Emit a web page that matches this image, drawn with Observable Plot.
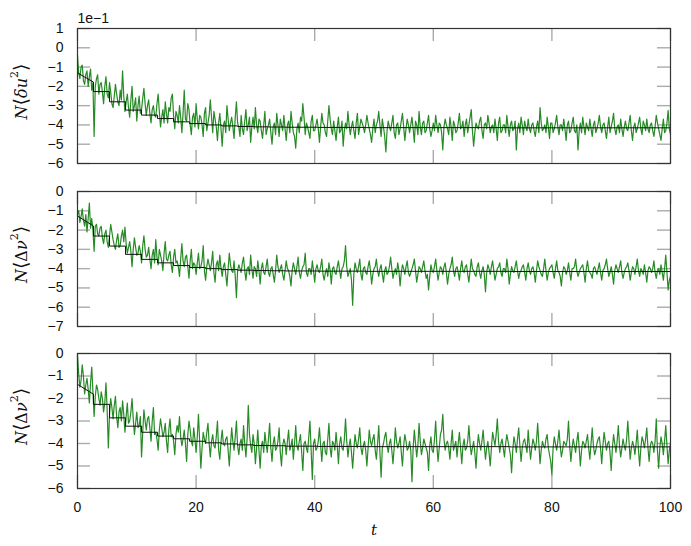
<!DOCTYPE html>
<html>
<head>
<meta charset="utf-8">
<script src="https://cdn.jsdelivr.net/npm/d3@7"></script>
<script src="https://cdn.jsdelivr.net/npm/@observablehq/plot@0.6"></script>
<style>
  html, body { margin: 0; padding: 0; background: #fff; }
  #chart { position: relative; width: 691px; height: 546px; }
  #chart svg { position: absolute; left: 0; }
</style>
</head>
<body>
<div id="chart"></div>
<script>
// ---- data ----
const xTicks = [0, 20, 40, 60, 80, 100];
const yTicks1 = [1, 0, -1, -2, -3, -4, -5, -6];
const yTicks2 = [0, -1, -2, -3, -4, -5, -6, -7];
const yTicks3 = [0, -1, -2, -3, -4, -5, -6];
const scaleNote = "1e\u22121";
const sampleStep = 0.2; // time between samples of the green series

const green1 = [
-0.4,-1.3,-1.6,-1.0,-0.9,-1.7,-1.9,-1.4,-1.2,-2.0,-1.5,-1.1,-2.2,-1.8,-4.6,-2.0,-1.6,-1.4,-2.4,-1.9,
-1.8,-2.3,-2.9,-2.0,-1.5,-2.4,-2.6,-1.8,-2.3,-2.9,-3.1,-2.5,-1.9,-2.4,-2.8,-3.0,-2.2,-2.7,-1.2,-2.5,
-3.3,-2.8,-2.4,-3.1,-3.6,-2.7,-2.0,-3.3,-3.0,-2.6,-3.8,-3.0,-2.5,-3.4,-3.2,-2.6,-2.1,-2.9,-3.5,-3.0,
-2.7,-3.4,-3.9,-3.2,-3.0,-3.5,-3.6,-2.9,-2.4,-3.3,-4.1,-3.6,-3.2,-3.9,-2.8,-3.4,-3.9,-3.1,-3.3,-2.6,
-2.4,-3.5,-4.2,-3.3,-3.5,-3.9,-3.0,-3.6,-4.4,-3.4,-2.2,-3.7,-3.8,-2.9,-3.2,-4.0,-4.5,-3.6,-3.4,-4.1,
-2.9,-3.7,-4.2,-3.5,-3.6,-4.0,-4.6,-3.4,-3.1,-4.3,-3.9,-3.5,-2.7,-3.6,-4.4,-3.3,-3.7,-4.1,-4.8,-3.9,
-3.4,-4.2,-5.1,-4.0,-3.8,-4.4,-3.0,-3.7,-4.3,-3.9,-3.6,-4.1,-4.7,-3.6,-2.8,-3.9,-4.1,-4.6,-3.5,-4.2,
-4.5,-3.8,-3.2,-4.3,-4.0,-3.6,-4.9,-4.1,-3.6,-4.2,-3.1,-4.0,-4.4,-3.7,-3.8,-4.3,-4.7,-4.0,-3.3,-4.5,
-4.2,-4.0,-3.7,-4.4,-5.0,-4.1,-3.9,-4.5,-3.4,-4.0,-4.6,-3.7,-4.0,-4.3,-3.5,-4.2,-4.8,-4.0,-3.8,-4.4,
-3.3,-3.9,-4.4,-4.6,-5.2,-4.2,-3.9,-4.4,-3.6,-3.8,-2.9,-3.6,-4.5,-3.9,-4.1,-4.4,-4.7,-3.8,-3.5,-4.3,
-4.3,-4.0,-3.7,-4.2,-4.9,-4.1,-3.4,-3.9,-4.0,-4.4,-4.6,-3.8,-3.0,-3.7,-4.2,-4.5,-3.8,-4.3,-4.8,-4.1,
-3.6,-4.4,-4.3,-3.8,-5.1,-4.3,-3.9,-4.2,-3.3,-4.0,-4.5,-4.1,-3.8,-4.3,-4.7,-3.9,-3.4,-4.5,-4.1,-3.7,
-3.9,-4.1,-4.4,-4.0,-3.5,-3.9,-4.2,-4.5,-4.9,-4.2,-3.7,-4.4,-4.0,-3.8,-3.3,-4.0,-4.6,-3.7,-4.1,-4.6,
-5.4,-4.3,-3.8,-4.1,-4.3,-3.9,-3.5,-4.4,-4.7,-4.0,-3.9,-4.5,-4.2,-3.8,-3.4,-4.1,-4.8,-4.2,-3.7,-4.0,
-4.4,-4.0,-3.6,-4.2,-4.9,-3.8,-4.0,-4.5,-3.3,-4.1,-4.5,-3.9,-3.8,-4.4,-4.3,-3.9,-3.5,-4.2,-4.6,-4.3,
-3.9,-4.3,-3.5,-4.0,-4.4,-3.9,-4.0,-4.4,-5.3,-4.1,-3.7,-4.0,-4.2,-4.5,-3.6,-4.1,-4.8,-3.8,-4.0,-4.4,
-4.3,-3.9,-3.4,-4.2,-4.1,-3.8,-4.6,-4.0,-3.7,-4.4,-4.0,-3.6,-3.2,-4.3,-5.1,-4.4,-3.9,-4.1,-4.2,-3.8,
-3.6,-4.3,-4.7,-4.0,-3.9,-4.2,-3.5,-3.9,-4.4,-4.1,-4.0,-4.4,-3.7,-4.2,-4.8,-3.9,-3.6,-4.4,-4.3,-4.0,
-4.0,-4.4,-3.5,-4.1,-4.6,-4.0,-3.8,-4.3,-4.2,-3.8,-5.3,-4.2,-3.9,-4.4,-3.6,-4.0,-4.5,-3.8,-4.1,-4.3,
-3.7,-4.2,-4.4,-4.0,-3.9,-4.3,-4.6,-4.1,-3.8,-4.4,-3.1,-3.9,-4.3,-4.2,-4.0,-4.4,-3.6,-4.1,-4.7,-3.9,
-3.9,-4.4,-4.2,-3.9,-3.5,-4.1,-4.5,-4.0,-4.0,-4.3,-3.7,-4.2,-4.8,-4.0,-3.8,-4.4,-4.3,-3.9,-3.6,-4.3,
-4.4,-4.0,-5.3,-4.3,-3.9,-4.4,-3.6,-4.1,-4.5,-3.9,-4.1,-4.3,-3.7,-4.2,-4.6,-4.0,-3.8,-4.4,-4.2,-3.9,
-3.5,-4.1,-4.4,-4.0,-3.9,-4.3,-4.7,-4.1,-3.6,-4.4,-4.1,-3.8,-3.4,-4.2,-4.5,-4.1,-4.0,-4.4,-3.7,-4.2,
-4.6,-4.1,-3.8,-4.2,-4.3,-3.9,-3.5,-4.3,-4.8,-4.1,-3.9,-4.4,-4.2,-3.9,-3.6,-4.2,-4.5,-3.8,-4.0,-4.3,
-3.7,-4.2,-4.4,-4.0,-3.9,-4.3,-4.6,-4.1,-3.5,-3.9,-4.2,-4.5,-4.8,-4.2,-3.7,-4.4,-4.3,-3.9,-3.25,-4.2,-4.5
];

const green2 = [
-1.2,-1.0,-1.6,-1.3,-0.9,-1.5,-1.8,-1.2,-2.1,-1.4,-0.6,-1.9,-1.4,-2.0,-3.1,-1.8,-1.7,-2.2,-2.3,-1.9,
-1.8,-2.4,-2.7,-2.2,-2.0,-2.6,-2.9,-2.3,-1.7,-2.1,-2.5,-2.8,-3.0,-2.5,-2.2,-2.9,-2.8,-2.3,-2.0,-2.6,
-1.85,-2.7,-3.2,-2.9,-2.6,-3.1,-3.9,-3.0,-2.4,-2.9,-3.3,-3.2,-2.8,-3.1,-3.7,-2.8,-2.3,-3.0,-3.4,-3.3,
-2.9,-3.5,-4.0,-3.3,-3.0,-3.7,-2.5,-3.4,-3.8,-3.0,-3.3,-3.6,-4.1,-3.2,-2.6,-3.5,-3.6,-3.3,-3.1,-3.8,
-4.2,-3.4,-3.0,-3.7,-3.6,-3.9,-4.4,-3.5,-2.7,-3.6,-3.9,-3.4,-3.3,-3.9,-4.5,-3.6,-3.0,-4.0,-3.7,-3.8,
-4.3,-3.7,-3.2,-4.0,-3.9,-3.6,-2.8,-4.1,-4.6,-3.9,-3.5,-3.8,-4.1,-3.7,-3.1,-4.2,-4.7,-3.8,-3.6,-4.1,
-3.3,-4.0,-4.4,-3.9,-3.7,-4.3,-4.9,-4.0,-3.2,-3.8,-4.1,-4.2,-3.6,-4.4,-5.5,-4.1,-3.8,-4.0,-4.2,-3.7,
-3.4,-4.1,-4.6,-4.0,-3.9,-4.3,-3.3,-4.0,-4.5,-3.9,-4.0,-4.4,-3.6,-4.1,-4.8,-4.0,-3.7,-4.2,-4.3,-3.9,
-3.5,-4.2,-4.4,-4.0,-3.9,-4.3,-4.7,-4.1,-3.3,-3.9,-4.2,-4.0,-3.8,-4.3,-4.6,-4.1,-3.6,-4.0,-4.1,-4.4,
-4.9,-4.1,-3.7,-4.0,-4.3,-3.9,-3.4,-4.2,-4.5,-4.1,-3.9,-3.8,-3.2,-4.2,-4.4,-4.0,-4.0,-4.3,-3.6,-4.1,
-4.7,-4.0,-3.8,-4.1,-4.2,-3.9,-3.5,-4.3,-4.6,-4.2,-4.0,-4.4,-3.7,-4.1,-4.8,-4.0,-3.9,-4.2,-4.3,-3.9,
-3.6,-4.1,-4.5,-4.0,-3.9,-3.6,-2.8,-3.9,-4.4,-4.2,-4.0,-4.6,-5.9,-4.3,-3.7,-4.0,-4.2,-3.9,-3.5,-4.3,
-4.6,-4.0,-3.9,-4.2,-4.3,-3.9,-3.6,-4.1,-4.8,-4.3,-4.0,-3.9,-3.5,-4.1,-4.4,-4.0,-3.8,-4.3,-4.7,-4.1,
-3.9,-4.3,-4.2,-3.9,-3.4,-4.0,-4.5,-4.2,-4.0,-4.3,-3.7,-4.1,-4.9,-4.2,-3.8,-4.0,-4.3,-3.9,-3.6,-4.2,
-4.4,-4.2,-4.0,-3.8,-3.5,-4.1,-4.7,-4.3,-3.9,-4.0,-4.2,-3.9,-3.6,-4.1,-4.5,-4.3,-5.1,-4.4,-3.8,-4.1,
-4.2,-3.9,-3.5,-4.1,-4.6,-4.2,-3.9,-4.0,-4.3,-3.9,-3.7,-4.2,-4.8,-4.3,-4.0,-3.8,-3.4,-4.1,-4.4,-4.0,
-3.9,-4.2,-4.6,-4.0,-3.6,-4.1,-4.2,-3.9,-3.8,-4.3,-4.7,-4.1,-3.5,-4.0,-4.1,-4.3,-4.4,-3.9,-3.7,-4.2,
-4.5,-4.1,-3.9,-4.3,-5.2,-4.2,-3.8,-4.0,-4.3,-3.9,-3.6,-4.1,-4.6,-4.3,-4.0,-3.9,-3.7,-4.2,-4.4,-4.0,
-4.0,-4.2,-3.5,-4.0,-4.8,-4.3,-3.9,-4.1,-4.2,-3.9,-3.6,-4.1,-4.5,-4.2,-4.1,-3.9,-3.8,-4.2,-4.6,-4.0,
-3.7,-4.1,-4.3,-4.0,-3.9,-4.2,-4.7,-4.1,-3.6,-3.9,-4.1,-4.3,-4.4,-4.0,-3.5,-4.1,-4.6,-4.2,-4.0,-3.9,
-3.8,-4.2,-4.5,-4.0,-3.6,-4.1,-4.2,-4.4,-4.9,-4.2,-3.9,-4.0,-4.3,-4.1,-3.7,-4.2,-4.6,-4.0,-4.0,-3.9,
-3.5,-4.1,-4.4,-4.2,-4.0,-3.9,-3.8,-4.2,-4.7,-4.0,-3.6,-4.1,-4.2,-4.3,-4.5,-4.0,-3.9,-4.1,-4.3,-4.0,
-3.7,-4.2,-4.6,-4.1,-4.0,-3.8,-3.5,-4.0,-4.4,-4.2,-3.9,-4.3,-4.8,-4.1,-3.8,-4.0,-4.2,-3.9,-3.6,-4.2,
-4.5,-4.2,-4.0,-3.9,-3.7,-4.1,-4.6,-4.2,-3.9,-4.0,-4.3,-3.9,-3.5,-4.1,-4.4,-4.0,-4.1,-4.3,-3.8,-4.2,
-4.7,-4.1,-3.9,-4.0,-4.2,-4.0,-3.6,-4.2,-4.5,-4.1,-4.0,-4.3,-3.8,-4.2,-4.6,-4.0,-3.3,-4.2,-5.1,-4.6,-4.4
];

const green3 = [
-0.1,-0.9,-1.5,-1.2,-0.5,-1.0,-1.8,-1.4,-1.1,-1.6,-2.2,-1.3,-0.6,-1.7,-2.8,-1.9,-1.4,-1.6,-2.0,-2.3,
-1.7,-2.0,-2.6,-2.2,-1.3,-2.5,-4.2,-2.7,-2.0,-2.4,-2.9,-2.3,-1.9,-2.8,-3.3,-2.6,-2.4,-3.0,-2.1,-2.7,
-3.5,-2.8,-2.2,-3.1,-3.0,-2.6,-2.0,-2.9,-3.6,-3.1,-2.6,-3.3,-3.2,-2.8,-4.6,-3.5,-2.5,-3.0,-3.4,-2.9,
-2.8,-3.3,-3.9,-3.0,-2.4,-3.6,-3.5,-3.8,-4.3,-3.4,-2.9,-3.3,-3.7,-3.5,-3.1,-3.9,-4.4,-3.4,-2.9,-3.7,
-3.6,-3.9,-4.5,-3.6,-3.2,-3.5,-2.8,-3.7,-4.1,-3.8,-3.4,-4.0,-4.8,-3.6,-3.0,-3.4,-3.9,-4.1,-3.3,-3.8,
-4.4,-3.7,-2.7,-3.9,-5.1,-4.2,-3.5,-3.8,-4.0,-3.5,-3.1,-4.0,-4.6,-3.9,-3.6,-4.1,-4.2,-3.7,-3.0,-4.3,
-4.7,-3.9,-3.4,-4.0,-4.1,-3.8,-3.7,-4.3,-5.0,-4.1,-3.3,-3.9,-4.3,-3.7,-3.0,-4.1,-4.5,-4.0,-3.8,-4.3,
-3.2,-4.0,-4.6,-3.8,-2.3,-3.6,-4.1,-4.4,-3.6,-4.0,-4.9,-4.2,-3.4,-4.3,-5.1,-4.1,-3.9,-4.4,-3.5,-4.0,
-4.4,-3.8,-3.1,-4.2,-4.8,-4.0,-3.7,-4.3,-4.2,-3.9,-3.3,-4.4,-5.0,-4.1,-3.8,-4.0,-4.5,-3.9,-3.4,-4.3,
-4.1,-3.8,-4.7,-4.0,-3.2,-4.1,-4.3,-3.9,-3.6,-4.4,-5.2,-4.0,-3.9,-4.2,-4.4,-3.7,-3.0,-4.3,-5.6,-4.0,
-3.8,-4.3,-4.2,-3.9,-3.3,-4.1,-4.8,-4.0,-3.9,-4.4,-4.5,-3.8,-3.1,-4.2,-4.6,-3.9,-4.0,-4.3,-3.5,-4.1,
-4.9,-4.0,-3.7,-4.2,-4.3,-3.8,-2.9,-3.9,-4.6,-4.1,-3.8,-4.4,-5.1,-4.3,-3.6,-4.0,-4.2,-3.8,-3.3,-4.2,
-4.5,-4.1,-3.9,-4.3,-5.0,-4.2,-3.4,-3.9,-4.1,-3.8,-3.6,-4.3,-4.7,-4.0,-3.2,-4.4,-5.5,-4.2,-4.0,-3.7,
-3.5,-4.1,-4.4,-4.0,-3.8,-4.3,-4.9,-4.2,-3.3,-3.9,-4.2,-4.0,-3.7,-4.4,-5.0,-4.1,-3.6,-3.9,-4.3,-4.2,
-3.9,-4.3,-5.7,-4.2,-3.4,-4.0,-4.6,-4.1,-3.1,-3.9,-4.5,-4.2,-3.8,-4.0,-4.2,-4.4,-5.2,-4.1,-3.7,-4.3,
-4.4,-3.8,-3.0,-4.1,-4.8,-4.2,-3.6,-3.4,-2.7,-3.8,-4.3,-4.0,-3.9,-4.2,-4.7,-4.0,-3.4,-4.3,-4.1,-3.9,
-4.6,-4.0,-3.5,-4.2,-4.9,-4.1,-3.8,-4.3,-4.2,-3.9,-3.2,-4.0,-4.5,-4.2,-3.9,-4.4,-5.1,-4.2,-3.6,-4.0,
-4.3,-3.9,-3.4,-4.1,-4.7,-4.2,-3.9,-4.4,-5.0,-4.2,-3.5,-3.8,-4.1,-3.6,-2.9,-3.9,-4.4,-4.0,-3.8,-4.2,
-4.6,-4.0,-3.6,-3.9,-4.2,-4.5,-5.3,-4.3,-3.7,-4.0,-4.4,-3.8,-3.3,-4.1,-4.8,-4.2,-3.9,-3.8,-4.1,-4.4,
-3.4,-4.1,-4.7,-4.2,-3.8,-4.0,-4.3,-3.9,-3.1,-4.0,-4.9,-4.3,-3.9,-4.1,-4.2,-3.8,-3.6,-4.2,-4.5,-4.8,
-5.4,-4.2,-3.7,-4.0,-4.3,-3.9,-3.4,-4.1,-4.6,-4.3,-3.9,-4.0,-4.1,-3.8,-3.0,-4.1,-4.8,-4.2,-3.8,-4.1,
-4.4,-3.9,-3.5,-4.2,-5.0,-4.3,-3.9,-4.0,-4.2,-3.9,-3.6,-4.2,-4.7,-4.0,-3.3,-4.1,-4.5,-4.3,-4.0,-3.8,
-3.7,-4.2,-4.9,-4.1,-3.5,-3.9,-4.3,-4.0,-3.9,-4.4,-5.2,-4.2,-3.6,-4.0,-4.4,-3.9,-3.2,-4.1,-4.6,-4.2,
-3.8,-4.1,-4.3,-3.8,-3.0,-3.9,-4.7,-4.2,-3.9,-4.1,-4.5,-4.0,-3.4,-4.3,-5.0,-4.2,-3.7,-3.9,-4.2,-3.8,
-3.3,-4.2,-4.8,-4.1,-3.9,-4.0,-4.4,-3.9,-2.9,-4.3,-5.1,-4.2,-3.7,-4.0,-4.5,-3.9,-3.2,-4.1,-4.9,-4.3,-4.0
];

// running-mean staircase (black): segment boundaries and level at the end of each segment
const meanBreaks = [0, 2.7, 5.4, 8.1, 10.8, 13.5, 16.2, 18.9, 21.6, 24.3, 27, 29.7, 32.4, 35.1, 40.5, 48.6, 59.4, 72.9, 86.4, 100];
const meanStart1 = -1.3;
const meanLevels1 = [-1.78, -2.27, -2.8, -3.23, -3.49, -3.67, -3.84, -3.93, -4.0, -4.05, -4.08, -4.1, -4.11, -4.12, -4.13, -4.14, -4.14, -4.15, -4.15];
const meanStart2 = -1.27;
const meanLevels2 = [-1.79, -2.31, -2.83, -3.26, -3.52, -3.70, -3.84, -3.94, -4.0, -4.05, -4.08, -4.1, -4.11, -4.12, -4.13, -4.14, -4.14, -4.15, -4.15];
const meanStart3 = -1.37;
const meanLevels3 = [-1.81, -2.26, -2.86, -3.23, -3.5, -3.67, -3.79, -3.9, -3.97, -4.02, -4.06, -4.09, -4.1, -4.12, -4.13, -4.14, -4.14, -4.15, -4.15];

// ---- build ----
const W = 691, ML = 77, MR = 21, FH = 135;
const frameW = W - ML - MR;
const tickLen = 13;
const tickColor = "#ababab";
const green = "#268a26";

function seriesData(vals) { return vals.map((v, i) => ({t: i * sampleStep, v})); }
function meanData(start, levels) {
  const pts = [{t: meanBreaks[0], v: start}, {t: meanBreaks[1], v: levels[0]}];
  for (let k = 1; k < levels.length; k++) {
    pts.push({t: meanBreaks[k], v: levels[k]});
    pts.push({t: meanBreaks[k + 1], v: levels[k]});
  }
  return pts;
}

function panel({vals, start, levels, yTicks, top, mTop, mBottom, xAxis, note}) {
  const h = mTop + FH + mBottom;
  const marks = [
    Plot.tickY(yTicks, {y: d => d, insetRight: frameW - tickLen, stroke: tickColor, strokeWidth: 1.4}),
    Plot.tickY(yTicks, {y: d => d, insetLeft: frameW - tickLen, stroke: tickColor, strokeWidth: 1.4}),
    Plot.tickX(xTicks, {x: d => d, insetBottom: FH - tickLen, stroke: tickColor, strokeWidth: 1.4}),
    Plot.tickX(xTicks, {x: d => d, insetTop: FH - tickLen, stroke: tickColor, strokeWidth: 1.4}),
    Plot.line(seriesData(vals), {x: "t", y: "v", stroke: green, strokeWidth: 1.2}),
    Plot.line(meanData(start, levels), {x: "t", y: "v", stroke: "#111", strokeWidth: 1}),
    Plot.frame({stroke: "#333", strokeWidth: 1.2}),
    Plot.axisY(yTicks, {tickSize: 0, tickPadding: 14, fontSize: 14, label: null})
  ];
  if (xAxis) {
    marks.push(Plot.axisX(xTicks, {tickSize: 0, tickPadding: 14, fontSize: 14, label: null}));
    marks.push(Plot.text(["t"], {frameAnchor: "bottom", dy: 46, fontStyle: "italic", fontFamily: "DejaVu Serif", fontSize: 15, fill: "#111"}));
  }
  if (note) {
    marks.push(Plot.text([note], {frameAnchor: "top-left", dy: -15, textAnchor: "start", fontSize: 14, fill: "#111"}));
  }
  const svg = Plot.plot({
    width: W, height: h,
    marginLeft: ML, marginRight: MR, marginTop: mTop, marginBottom: mBottom,
    x: {domain: [0, 100], axis: xAxis ? undefined : null},
    y: {domain: [yTicks[yTicks.length - 1], yTicks[0]]},
    style: {fontFamily: "'Liberation Sans', Arial, sans-serif", fontSize: "14px", color: "#111", background: "transparent", overflow: "visible"},
    marks
  });
  svg.style.top = top + "px";
  return {svg, cy: mTop + FH / 2};
}

function yLabel(svg, cy, letter1, letter2, letter1Upright) {
  const t = d3.select(svg).append("text")
    .attr("transform", `translate(22,${cy - 4}) rotate(-90)`)
    .attr("text-anchor", "middle")
    .attr("dominant-baseline", "middle")
    .attr("font-family", "'DejaVu Serif', serif")
    .attr("font-size", 16)
    .attr("fill", "#111");
  t.append("tspan").attr("font-style", "italic").text("N");
  t.append("tspan").attr("font-size", 19).text("\u27E8");
  t.append("tspan").attr("font-style", letter1Upright ? "normal" : "italic").text(letter1);
  t.append("tspan").attr("font-style", "italic").text(letter2);
  t.append("tspan").attr("font-size", 11).attr("dy", -7).text("2");
  t.append("tspan").attr("font-size", 19).attr("dy", 7).text("\u27E9");
}

const chart = document.getElementById("chart");
const p1 = panel({vals: green1, start: meanStart1, levels: meanLevels1, yTicks: yTicks1, top: 0, mTop: 28, mBottom: 10, xAxis: false, note: scaleNote});
const p2 = panel({vals: green2, start: meanStart2, levels: meanLevels2, yTicks: yTicks2, top: 173, mTop: 18, mBottom: 10, xAxis: false});
const p3 = panel({vals: green3, start: meanStart3, levels: meanLevels3, yTicks: yTicks3, top: 336, mTop: 17, mBottom: 58, xAxis: true});
yLabel(p1.svg, p1.cy, "\u03B4", "u", false);
yLabel(p2.svg, p2.cy, "\u0394", "\u03BD", true);
yLabel(p3.svg, p3.cy, "\u0394", "\u03BD", true);
chart.append(p1.svg, p2.svg, p3.svg);
</script>
</body>
</html>
